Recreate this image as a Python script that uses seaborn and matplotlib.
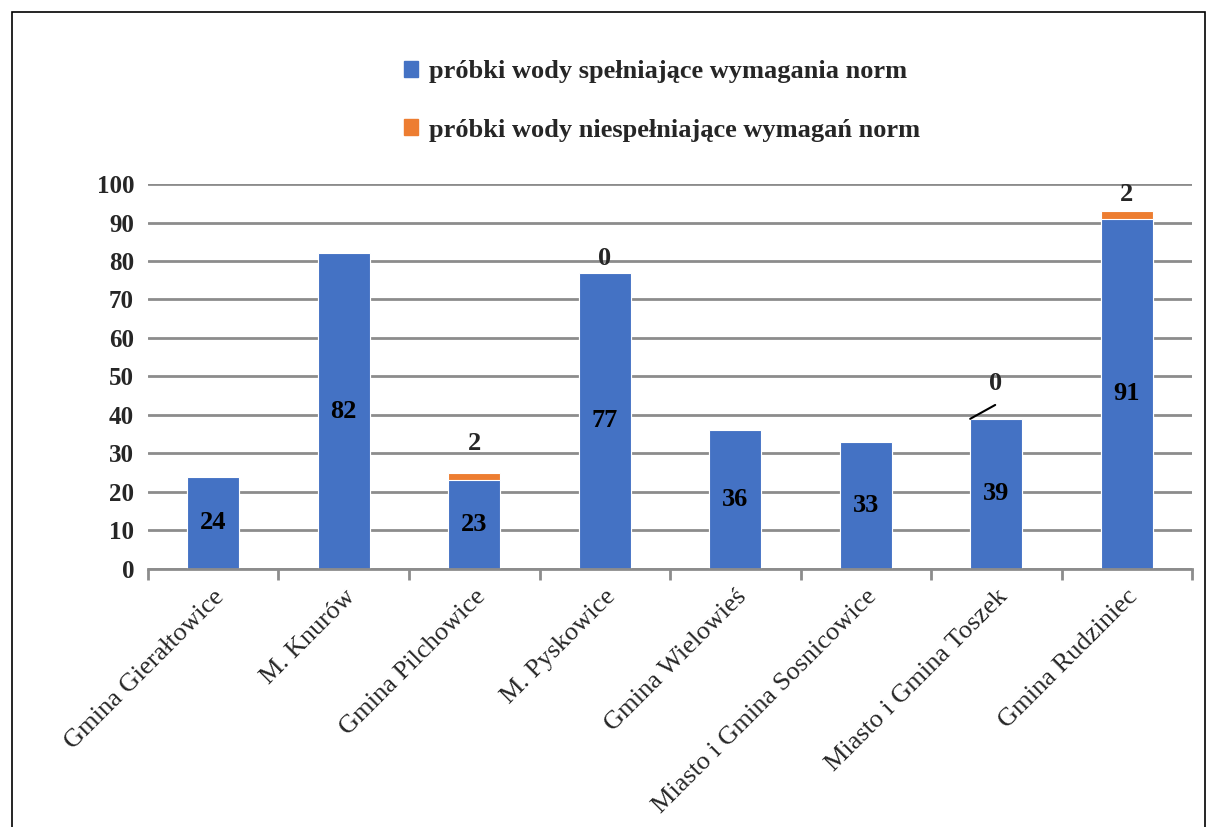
import matplotlib
matplotlib.use("Agg")
import matplotlib.pyplot as plt
from matplotlib.patches import Patch, Rectangle
import pandas as pd
import seaborn as sns

gminy = ["Gmina Gierałtowice", "M. Knurów", "Gmina Pilchowice", "M. Pyskowice",
         "Gmina Wielowieś", "Miasto i Gmina Sosnicowice", "Miasto i Gmina Toszek",
         "Gmina Rudziniec"]
spelniajace = [24, 82, 23, 77, 36, 33, 39, 91]
niespelniajace = [0, 0, 2, 0, 0, 0, 0, 2]
# which orange values get a data label in the original
pokaz_etykiete = [False, False, True, True, False, False, True, True]

BLUE = "#4472C4"
ORANGE = "#ED7D31"
GRID = "#8C8C8C"

sns.set_theme(style="white")
plt.rcParams["font.family"] = ["Liberation Serif", "DejaVu Serif"]

df = pd.DataFrame({"gmina": gminy, "ok": spelniajace, "nok": niespelniajace})
df["razem"] = df["ok"] + df["nok"]

fig = plt.figure(figsize=(12.08, 8.27), dpi=100)
ax = fig.add_axes([0.1225, 0.312, 0.8643, 0.4655])

# stacked bars: total in orange, blue drawn over it
sns.barplot(data=df, x="gmina", y="razem", color=ORANGE, saturation=1,
            width=0.4, edgecolor="white", linewidth=0.8, ax=ax, zorder=3)
sns.barplot(data=df, x="gmina", y="ok", color=BLUE, saturation=1,
            width=0.4, edgecolor="white", linewidth=0.8, ax=ax, zorder=4)

ax.set_ylim(0, 100)
ax.set_xlim(-0.5, len(gminy) - 0.5)
ax.set_yticks(range(0, 101, 10))
ax.yaxis.grid(True, color=GRID, linewidth=2)
ax.set_axisbelow(True)
ax.set_xlabel("")
ax.set_ylabel("")
for s in ["left", "right", "top"]:
    ax.spines[s].set_visible(False)
ax.spines["bottom"].set_color(GRID)
ax.spines["bottom"].set_linewidth(2)
ax.spines["bottom"].set_zorder(5)

ax.tick_params(axis="y", length=6, width=2, color=GRID, pad=4, labelsize=18)
for t in ax.get_yticklabels():
    t.set_fontweight("bold")
ax.set_xticks([i - 0.5 for i in range(len(gminy) + 1)], minor=True)
ax.tick_params(axis="x", which="minor", length=8, width=2, color=GRID, bottom=True)
ax.tick_params(axis="x", which="major", length=0, pad=12)
ax.set_xticks(range(len(gminy)))
ax.set_xticklabels(gminy, rotation=45, ha="right", rotation_mode="anchor",
                   fontsize=19)

# labels in the middle of the blue bars
for i, v in enumerate(spelniajace):
    ax.text(i, v / 2, str(v), ha="center", va="center", fontsize=19,
            fontweight="bold", color="black", zorder=6)

# labels of the orange part
offsets = {2: (0, 13), 3: (0, 1.5), 7: (0, 3.5)}
for i, (b, n, show) in enumerate(zip(spelniajace, niespelniajace, pokaz_etykiete)):
    if not show:
        continue
    if i == 6:
        # leader line from the bar corner, label above it
        ax.annotate("", xy=(i - 0.2, b + n), xytext=(18, 10),
                    textcoords="offset points",
                    arrowprops=dict(arrowstyle="-", color="black", lw=1.5,
                                    shrinkA=0, shrinkB=0), zorder=6)
        ax.annotate(str(n), xy=(i - 0.2, b + n), xytext=(18, 17),
                    textcoords="offset points", ha="center", va="bottom",
                    fontsize=19, fontweight="bold", zorder=6)
        continue
    ax.annotate(str(n), xy=(i, b + n), xytext=offsets.get(i, (0, 6)),
                textcoords="offset points", ha="center", va="bottom",
                fontsize=19, fontweight="bold", zorder=6)

handles = [Patch(color=BLUE, label="próbki wody spełniające wymagania norm"),
           Patch(color=ORANGE, label="próbki wody niespełniające wymagań norm")]
fig.legend(handles=handles, loc="center", bbox_to_anchor=(0.548, 0.878),
           frameon=False, ncol=1, handlelength=0.55, handleheight=0.55,
           handletextpad=0.4, labelspacing=1.35,
           prop=dict(family="Liberation Serif", weight="bold", size=19))

# outer frame of the original chart
fig.patches.append(Rectangle((12 / 1208, -0.1), 1193 / 1208, 1.1 - 12 / 827,
                             transform=fig.transFigure, fill=False,
                             edgecolor="black", linewidth=1.2))

fig.savefig("out.png", dpi=100)
